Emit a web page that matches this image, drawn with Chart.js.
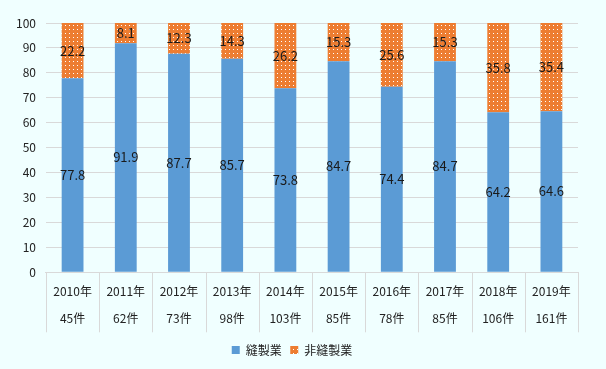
<!DOCTYPE html>
<html lang="ja">
<head>
  <meta charset="UTF-8">
  <title>縫製業・非縫製業の割合</title>
  <script src="https://cdn.jsdelivr.net/npm/chart.js"></script>
  <style>
    html, body { margin: 0; padding: 0; background: #F0FFFF; }
    #wrap { width: 606px; height: 369px; }
  </style>
</head>
<body>
  <div id="wrap"><canvas id="shareChart" width="606" height="369"></canvas></div>

  <script>
    const years = ['2010年', '2011年', '2012年', '2013年', '2014年', '2015年', '2016年', '2017年', '2018年', '2019年'];
    const counts = ['45件', '62件', '73件', '98件', '103件', '85件', '78件', '85件', '106件', '161件'];
    const sewing = [77.8, 91.9, 87.7, 85.7, 73.8, 84.7, 74.4, 84.7, 64.2, 64.6];
    const nonSewing = [22.2, 8.1, 12.3, 14.3, 26.2, 15.3, 25.6, 15.3, 35.8, 35.4];
    const yTicks = [0, 10, 20, 30, 40, 50, 60, 70, 80, 90, 100];

    const font = '"Noto Sans CJK JP", "Noto Sans", sans-serif';

    // orange with little white dots
    function dotPattern() {
      const c = document.createElement('canvas');
      c.width = 4; c.height = 4;
      const g = c.getContext('2d');
      g.fillStyle = '#ED7D31';
      g.fillRect(0, 0, 4, 4);
      g.fillStyle = '#FFFFFF';
      g.fillRect(1, 1, 1, 1);
      return g.createPattern(c, 'repeat');
    }

    // value labels in the middle of each segment
    const segmentLabels = {
      id: 'segmentLabels',
      afterDatasetsDraw(chart) {
        const ctx = chart.ctx;
        ctx.save();
        ctx.font = '13px ' + font;
        ctx.fillStyle = '#1a1a1a';
        ctx.textAlign = 'center';
        ctx.textBaseline = 'middle';
        chart.data.datasets.forEach((ds, i) => {
          chart.getDatasetMeta(i).data.forEach((bar, j) => {
            ctx.fillText(ds.data[j].toFixed(1), bar.x, (bar.y + bar.base) / 2);
          });
        });
        ctx.restore();
      }
    };

    // vertical separators between the category labels under the axis
    const labelBoxes = {
      id: 'labelBoxes',
      afterDraw(chart) {
        const x = chart.scales.x;
        const ctx = chart.ctx;
        const step = x.width / years.length;
        ctx.save();
        ctx.strokeStyle = '#D9D9D9';
        ctx.lineWidth = 1;
        for (let i = 0; i <= years.length; i++) {
          const px = Math.round(x.left + i * step) + 0.5;
          ctx.beginPath();
          ctx.moveTo(px, chart.chartArea.bottom);
          ctx.lineTo(px, chart.chartArea.bottom + 60);
          ctx.stroke();
        }
        ctx.restore();
      }
    };

    new Chart(document.getElementById('shareChart'), {
      type: 'bar',
      data: {
        labels: years.map((y, i) => [y, counts[i]]),
        datasets: [
          { label: '縫製業', data: sewing, backgroundColor: '#5B9BD5' },
          { label: '非縫製業', data: nonSewing, backgroundColor: dotPattern() }
        ]
      },
      options: {
        responsive: false,
        animation: false,
        layout: { padding: { left: 6, right: 28, top: 23, bottom: 3 } },
        datasets: { bar: { barPercentage: 0.82, categoryPercentage: 0.5 } },
        plugins: {
          legend: {
            position: 'bottom',
            labels: { boxWidth: 8, boxHeight: 8, padding: 8.5, color: '#222', font: { size: 12, family: font } }
          },
          tooltip: { enabled: false }
        },
        scales: {
          x: {
            stacked: true,
            afterFit: axis => { axis.height += 6; },
            border: { display: true, color: '#D9D9D9' },
            grid: { display: false },
            ticks: { padding: -3, color: '#222', font: { size: 12, family: font, lineHeight: 2.3 }, maxRotation: 0, autoSkip: false }
          },
          y: {
            stacked: true,
            min: 0,
            max: 100,
            afterBuildTicks: axis => { axis.ticks = yTicks.map(v => ({ value: v })); },
            border: { display: false },
            grid: { color: '#D9D9D9', drawTicks: false },
            ticks: { padding: 10, color: '#222', font: { size: 12, family: font } }
          }
        }
      },
      plugins: [segmentLabels, labelBoxes]
    });
  </script>
</body>
</html>
